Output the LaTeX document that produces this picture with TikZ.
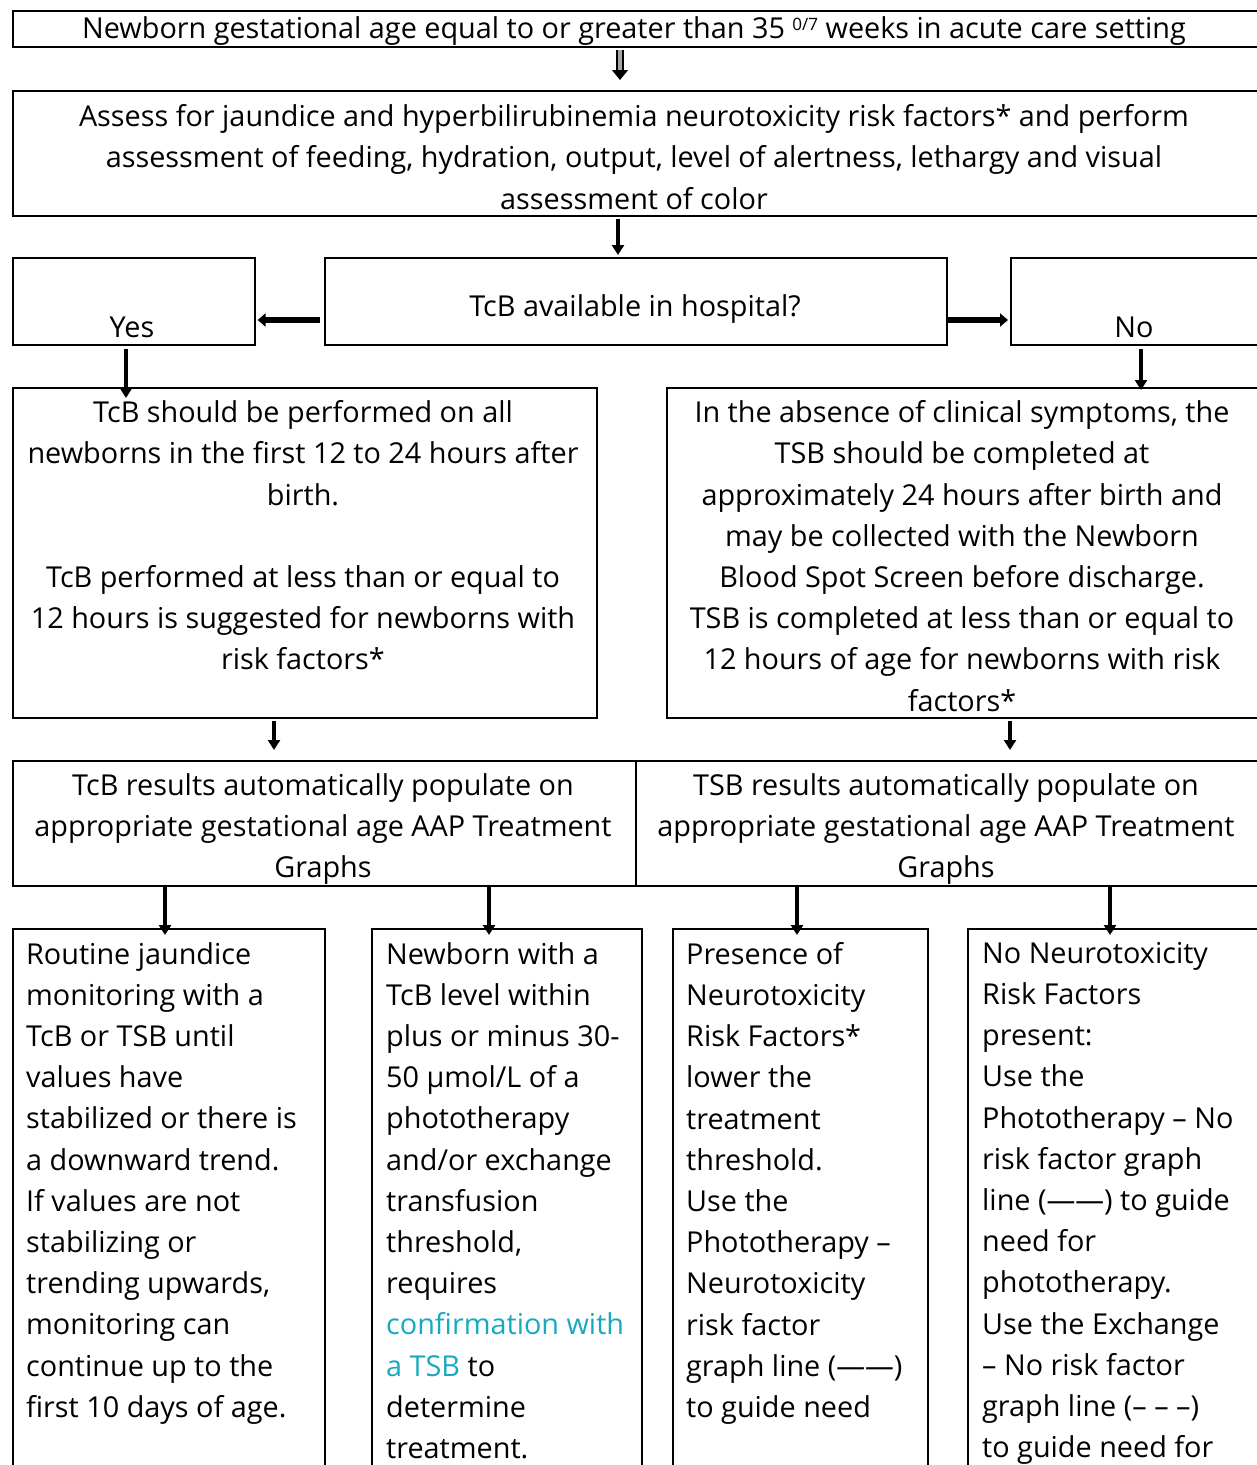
\documentclass[tikz,border=0pt]{standalone}
\usepackage{fontspec}
\setmainfont{Open Sans}
\usetikzlibrary{arrows.meta}
\definecolor{linkc}{RGB}{23,170,190}
\begin{document}
\begin{tikzpicture}[x=1pt,y=-1pt,
 box/.style={draw, line width=1.6pt, rectangle, inner sep=0, anchor=north west},
 txt/.style={inner sep=0, align=center, font=\fontsize{28.8}{41.2}\selectfont},
 ltxt/.style={inner sep=0, align=left, anchor=north west, font=\fontsize{28.8}{41.2}\selectfont},
 varr/.style={line width=4pt, -{Triangle[width=12pt,length=10pt]}},
 harr/.style={line width=6.5pt, -{Triangle[width=13pt,length=8pt]}},
 garr/.style={line width=1.3pt, double=gray!70, double distance=4.5pt, -{Triangle[width=16pt,length=10pt]}}]
\useasboundingbox (0,0) rectangle (1257,1465);
\clip (0,0) rectangle (1257,1465);
% boxes
\node[box, minimum width=1250pt, minimum height=36pt] (b1) at (12,10) {};
\node[box, minimum width=1250pt, minimum height=125pt] (b2) at (12,90) {};
\node[box, minimum width=242pt, minimum height=87pt] (yes) at (12,257) {};
\node[box, minimum width=622pt, minimum height=87pt] (q) at (324,257) {};
\node[box, minimum width=252pt, minimum height=87pt] (no) at (1010,257) {};
\node[box, minimum width=584pt, minimum height=330pt] (l4) at (12,387) {};
\node[box, minimum width=596pt, minimum height=330pt] (r4) at (666,387) {};
\node[box, minimum width=623pt, minimum height=125pt] (r5l) at (12,760) {};
\node[box, minimum width=627pt, minimum height=125pt] (r5r) at (635,760) {};
\node[box, minimum width=312pt, minimum height=560pt] (c1) at (12,928) {};
\node[box, minimum width=270pt, minimum height=560pt] (c2) at (371,928) {};
\node[box, minimum width=255pt, minimum height=560pt] (c3) at (672,928) {};
\node[box, minimum width=295pt, minimum height=560pt] (c4) at (967,928) {};
% texts
\node[txt] (t1) at (634,31) {Newborn gestational age equal to or greater than 35 {\fontsize{17}{17}\selectfont\raisebox{0.45em}{0/7}} weeks in acute care setting};
\node[txt] (t2) at (634,157) {Assess for jaundice and hyperbilirubinemia neurotoxicity risk factors* and perform\\ assessment of feeding, hydration, output, level of alertness, lethargy and visual\\ assessment of color};
\node[txt] (tq) at (635,309) {TcB available in hospital?};
\node[txt] (tyes) at (132,327) {Yes};
\node[txt] (tno) at (1134,327) {No};
\node[txt] (tl4) at (303,535.5) {TcB should be performed on all\\ newborns in the first 12 to 24 hours after\\ birth.\\ ~\\ TcB performed at less than or equal to\\ 12 hours is suggested for newborns with\\ risk factors*};
\node[txt] (tr4) at (962,556) {In the absence of clinical symptoms, the\\ TSB should be completed at\\ approximately 24 hours after birth and\\ may be collected with the Newborn\\ Blood Spot Screen before discharge.\\ TSB is completed at less than or equal to\\ 12 hours of age for newborns with risk\\ factors*};
\node[txt] (tr5l) at (323,829) {TcB results automatically populate on\\ appropriate gestational age AAP Treatment\\ Graphs};
\node[txt] (tr5r) at (946,829) {TSB results automatically populate on\\ appropriate gestational age AAP Treatment\\ Graphs};
\node[ltxt] (tc1) at (26,942) {Routine jaundice\\ monitoring with a\\ TcB or TSB until\\ values have\\ stabilized or there is\\ a downward trend.\\ If values are not\\ stabilizing or\\ trending upwards,\\ monitoring can\\ continue up to the\\ first 10 days of age.};
\node[ltxt] (tc2) at (386,942) {Newborn with a\\ TcB level within\\ plus or minus 30-\\ 50 µmol/L of a\\ phototherapy\\ and/or exchange\\ transfusion\\ threshold,\\ requires\\ {\color{linkc}confirmation with}\\ {\color{linkc}a TSB} to\\ determine\\ treatment.};
\node[ltxt] (tc3) at (686,942) {Presence of\\ Neurotoxicity\\ Risk Factors*\\ lower the\\ treatment\\ threshold.\\ Use the\\ Phototherapy –\\ Neurotoxicity\\ risk factor\\ graph line (——)\\ to guide need};
\node[ltxt] (tc4) at (982,942) {No Neurotoxicity\\ Risk Factors\\ present:\\ Use the\\ Phototherapy – No\\ risk factor graph\\ line (——) to guide\\ need for\\ phototherapy.\\ Use the Exchange\\ – No risk factor\\ graph line (– – –)\\ to guide need for};
% arrow x positions
\coordinate (x1) at (620,0);
\coordinate (x2) at (618,0);
\coordinate (yh) at (0,320);
\coordinate (xy) at (126,0);
\coordinate (xn) at (1141,0);
\coordinate (xl) at (274,0);
\coordinate (xr) at (1010,0);
\coordinate (xc1) at (165,0);
\coordinate (xc2) at (489,0);
\coordinate (xc3) at (797,0);
\coordinate (xc4) at (1110,0);
% arrows
\draw[garr, shorten >=10pt, shorten <=2pt] (b1.south -| x1) -- (b2.north -| x1);
\draw[varr, shorten >=2pt, shorten <=2pt] (b2.south -| x2) -- (q.north -| x2);
\draw[harr, shorten <=4pt, shorten >=2pt] (q.west |- yh) -- (yes.east |- yh);
\draw[harr, shorten >=2pt] (q.east |- yh) -- (no.west |- yh);
\draw[varr, shorten <=3pt, shorten >=-11pt] (yes.south -| xy) -- (l4.north -| xy);
\draw[varr, shorten <=3pt, shorten >=-3pt] (no.south -| xn) -- (r4.north -| xn);
\draw[varr, shorten <=2pt, shorten >=10pt] (l4.south -| xl) -- (r5l.north -| xl);
\draw[varr, shorten <=2pt, shorten >=10pt] (r4.south -| xr) -- (r5r.north -| xr);
\draw[varr, shorten >=-7pt] (r5l.south -| xc1) -- (c1.north -| xc1);
\draw[varr, shorten >=-7pt] (r5l.south -| xc2) -- (c2.north -| xc2);
\draw[varr, shorten >=-7pt] (r5r.south -| xc3) -- (c3.north -| xc3);
\draw[varr, shorten >=-7pt] (r5r.south -| xc4) -- (c4.north -| xc4);
\end{tikzpicture}
\end{document}
